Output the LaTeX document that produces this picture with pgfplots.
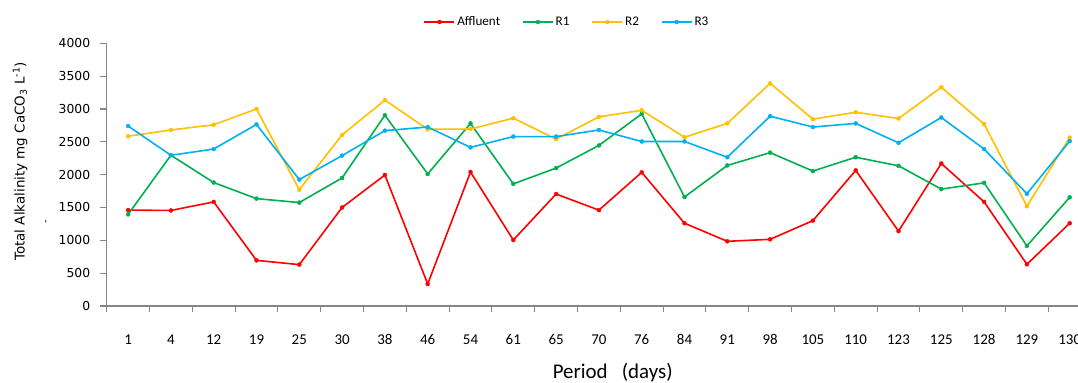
\documentclass[border=0pt]{standalone}
\usepackage{pgfplots}
\pgfplotsset{compat=1.18}
\usepackage{pgfplotstable}
\usepackage{fontspec}
\setmainfont{Carlito}
\newfontfamily\dejavu{DejaVu Sans}
\definecolor{cAff}{HTML}{FF0000}
\definecolor{cR1}{HTML}{00B050}
\definecolor{cR2}{HTML}{FFC000}
\definecolor{cR3}{HTML}{00B0F0}
\definecolor{axgray}{HTML}{868686}
\pgfplotstableread{
idx day aff r1 r2 r3
0 1 1460 1395 2585 2740
1 4 1455 2295 2680 2295
2 12 1585 1880 2760 2390
3 19 695 1635 3000 2765
4 25 630 1575 1770 1925
5 30 1500 1950 2605 2290
6 38 1995 2905 3135 2670
7 46 335 2010 2690 2725
8 54 2040 2780 2695 2415
9 61 1005 1860 2860 2580
10 65 1705 2100 2540 2580
11 70 1460 2445 2880 2680
12 76 2035 2925 2980 2505
13 84 1260 1660 2570 2505
14 91 985 2140 2780 2265
15 98 1015 2335 3390 2890
16 105 1300 2055 2845 2725
17 110 2065 2265 2950 2780
18 123 1140 2135 2855 2485
19 125 2170 1780 3330 2870
20 128 1585 1875 2770 2390
21 129 635 915 1520 1710
22 130 1260 1655 2565 2510
}\datatable
\begin{document}
\begin{tikzpicture}
\path[use as bounding box] (0,0) rectangle (1078bp,383bp);
\begin{axis}[
  at={(106.7bp,77bp)}, anchor=south west,
  scale only axis, width=984.4bp, height=262.7bp,
  xmin=-0.5, xmax=22.5, ymin=0, ymax=4000,
  axis x line=bottom, axis y line=left,
  axis line style={draw=axgray, line width=1.3bp, -},
  every tick/.style={draw=axgray, line width=1.1bp},
  tick align=outside,
  xtick={0,...,22},
  xticklabels={1,4,12,19,25,30,38,46,54,61,65,70,76,84,91,98,105,110,123,125,128,129,130},
  major x tick style={draw=none},
  minor xtick={-0.5,0.5,...,22.5},
  minor tick length=6bp,
  ytick={0,500,...,4000},
  major tick length=7bp,
  xticklabel style={font=\fontsize{15}{16}\selectfont, yshift=-18bp},
  yticklabel style={font=\dejavu\fontsize{12.4}{14}\selectfont, xshift=-6bp,
    /pgf/number format/set thousands separator={}},
  scaled y ticks=false,
  /pgf/number format/assume math mode=true,
  /pgf/number format/set thousands separator={},
  clip=false,
  legend columns=-1,
  legend style={draw=none, fill=none, at={(rel axis cs:0.4676,1.081)}, anchor=center,
    font=\fontsize{13.2}{14}\selectfont, inner sep=0pt,
    /tikz/every even column/.append style={column sep=20bp}},
  legend image code/.code={\draw[mark repeat=2,mark phase=2,#1] plot coordinates {(0bp,0bp) (15bp,0bp) (30bp,0bp)};},
  every axis plot/.append style={line width=1.6bp, mark=*, mark size=2bp, mark options={line width=0.4bp}},
]
\addplot[color=cAff] table[x=idx,y=aff]{\datatable};
\addlegendentry{Affluent}
\addplot[color=cR1] table[x=idx,y=r1]{\datatable};
\addlegendentry{R1}
\addplot[color=cR2] table[x=idx,y=r2]{\datatable};
\addlegendentry{R2}
\addplot[color=cR3] table[x=idx,y=r3]{\datatable};
\addlegendentry{R3}
\node[rotate=90, anchor=center, font=\dejavu\fontsize{13.5}{15}\selectfont] at (rel axis cs:-0.088,0.55) {Total Alkalinity mg CaCO\textsubscript{3} L\textsuperscript{-1})};
\node[rotate=90, anchor=center, font=\dejavu\fontsize{10}{12}\selectfont] at (rel axis cs:-0.0606,0.32) {-};
\node[anchor=center, font=\fontsize{21}{24}\selectfont] at (rel axis cs:0.514,-0.255) {Period\ \ \ (days)};
\end{axis}
\end{tikzpicture}
\end{document}
